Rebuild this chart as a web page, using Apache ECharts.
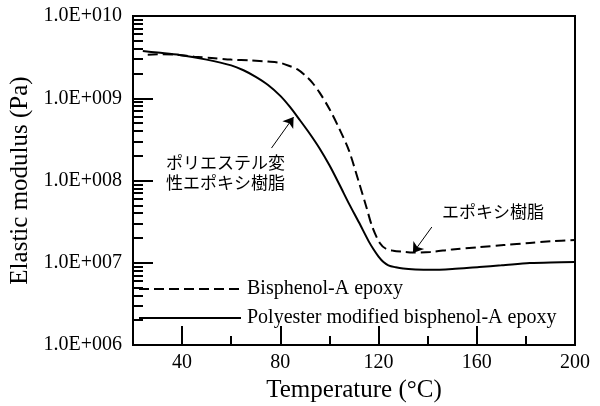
<!DOCTYPE html>
<html>
<head>
<meta charset="utf-8">
<style>
  html, body { margin: 0; padding: 0; background: #fff; }
  #chart { width: 600px; height: 406px; }
</style>
<script src="https://cdn.jsdelivr.net/npm/echarts@6/dist/echarts.min.js"></script>
</head>
<body>
<div id="chart"></div>
<script>
// Bisphenol-A epoxy (dashed)
const tempEpoxy = [26, 32, 38, 45, 52, 60, 68, 75, 80, 84, 87, 90, 93, 96, 100, 104, 108, 112, 115, 117.5, 120.5, 123, 126, 130, 134, 141, 150, 161, 171, 181.6, 190, 200]
const modulusEpoxy = [3.39e9, 3.43e9, 3.39e9, 3.2e9, 3.09e9, 2.95e9, 2.88e9, 2.79e9, 2.69e9, 2.45e9, 2.24e9, 1.91e9, 1.55e9, 1.17e9, 7.4e8, 4.27e8, 2.29e8, 9.5e7, 4.8e7, 2.7e7, 1.74e7, 1.48e7, 1.4e7, 1.36e7, 1.33e7, 1.35e7, 1.45e7, 1.55e7, 1.64e7, 1.74e7, 1.82e7, 1.89e7]

// Polyester modified bisphenol-A epoxy (solid)
const tempModified = [24, 30, 39, 50, 60, 65, 70, 75, 80, 84, 88, 92, 96, 100, 104, 108, 112, 116, 118, 120, 122, 124, 127, 130, 135, 141, 150, 161, 170, 181.6, 190, 200]
const modulusModified = [3.75e9, 3.59e9, 3.36e9, 2.95e9, 2.51e9, 2.19e9, 1.82e9, 1.45e9, 1.07e9, 7.8e8, 5.4e8, 3.7e8, 2.45e8, 1.53e8, 9.0e7, 5.2e7, 3.1e7, 1.82e7, 1.45e7, 1.19e7, 1.02e7, 9.3e6, 8.8e6, 8.5e6, 8.3e6, 8.2e6, 8.4e6, 8.9e6, 9.3e6, 9.9e6, 1.01e7, 1.02e7]

const xMajorTicks = [40, 80, 120, 160, 200]
const xMinorTicks = [60, 100, 140, 180]
const yDecades = [6, 7, 8, 9]
const yMinorSteps = [2, 3, 4, 5, 6, 7, 8, 9]

// minor ticks of the log axis, placed on a helper axis in decade units
const yMinorTicks = []
yDecades.forEach((d) => {
  yMinorSteps.forEach((k) => yMinorTicks.push(d + Math.log10(k)))
})

const serif = 'Liberation Serif'
const cjk = 'Noto Sans CJK JP'

const pairs = (xs, ys) => xs.map((x, i) => [x, ys[i]])

const chart = echarts.init(document.getElementById('chart'))

const option = {
  animation: false,
  grid: {
    left: 133,
    right: 25,
    top: 16,
    bottom: 61,
    outerBoundsMode: 'none',
    show: true,
    borderColor: '#000',
    borderWidth: 2
  },
  legend: {
    orient: 'vertical',
    left: 133,
    top: 274,
    itemWidth: 102,
    itemHeight: 20,
    itemGap: 9,
    itemStyle: { color: 'transparent', borderWidth: 0, opacity: 0 },
    textStyle: {
      fontFamily: serif,
      fontSize: 20,
      color: '#000',
      padding: [0, 0, 0, 1]
    },
    data: ['Bisphenol-A epoxy', 'Polyester modified bisphenol-A epoxy']
  },
  xAxis: [
    {
      type: 'value',
      min: 20,
      max: 200,
      interval: 20,
      name: 'Temperature (°C)',
      nameLocation: 'middle',
      nameGap: 32,
      nameTextStyle: { fontFamily: serif, fontSize: 25, color: '#000' },
      axisLine: { lineStyle: { color: '#000', width: 2 } },
      axisTick: {
        show: true,
        inside: true,
        length: 19,
        customValues: xMajorTicks,
        lineStyle: { color: '#000', width: 2 }
      },
      axisLabel: {
        customValues: xMajorTicks,
        fontFamily: serif,
        fontSize: 20,
        color: '#000',
        margin: 8
      },
      splitLine: { show: false }
    },
    {
      type: 'value',
      min: 20,
      max: 200,
      interval: 20,
      position: 'bottom',
      axisLine: { show: false },
      axisTick: {
        show: true,
        inside: true,
        length: 9,
        customValues: xMinorTicks,
        lineStyle: { color: '#000', width: 2 }
      },
      axisLabel: { show: false },
      splitLine: { show: false }
    }
  ],
  yAxis: [
    {
      type: 'log',
      logBase: 10,
      min: 1e6,
      max: 1e10,
      name: 'Elastic modulus (Pa)',
      nameLocation: 'middle',
      nameGap: 86,
      nameTextStyle: { fontFamily: serif, fontSize: 25, color: '#000' },
      axisLine: { lineStyle: { color: '#000', width: 2 } },
      axisTick: {
        show: true,
        inside: true,
        length: 20,
        lineStyle: { color: '#000', width: 2 }
      },
      axisLabel: {
        fontFamily: serif,
        fontSize: 20,
        color: '#000',
        margin: 11,
        formatter: (v) => {
          const e = Math.round(Math.log10(v))
          return '1.0E+' + String(e).padStart(3, '0')
        }
      },
      splitLine: { show: false }
    },
    {
      type: 'value',
      min: 6,
      max: 10,
      position: 'left',
      axisLine: { show: false },
      axisTick: {
        show: true,
        inside: true,
        length: 10,
        customValues: yMinorTicks,
        lineStyle: { color: '#000', width: 2 }
      },
      axisLabel: { show: false },
      splitLine: { show: false }
    }
  ],
  series: [
    {
      name: 'Bisphenol-A epoxy',
      type: 'line',
      data: pairs(tempEpoxy, modulusEpoxy),
      symbol: 'none',
      smooth: 0.3,
      color: '#000',
      lineStyle: { color: '#000', width: 2, type: [10, 5] },
      markLine: {
        silent: true,
        symbol: ['none', 'arrow'],
        symbolSize: 10,
        label: { show: false },
        lineStyle: { color: '#000', width: 1, type: 'solid' },
        data: [[{ coord: [141.7, 2.72e7] }, { coord: [134, 1.31e7] }]]
      }
    },
    {
      name: 'Polyester modified bisphenol-A epoxy',
      type: 'line',
      data: pairs(tempModified, modulusModified),
      symbol: 'none',
      smooth: 0.3,
      color: '#000',
      lineStyle: { color: '#000', width: 2 },
      markLine: {
        silent: true,
        symbol: ['none', 'arrow'],
        symbolSize: 10,
        label: { show: false },
        lineStyle: { color: '#000', width: 1, type: 'solid' },
        data: [[{ coord: [76.4, 2.48e8] }, { coord: [85.4, 5.9e8] }]]
      }
    }
  ],
  graphic: [
    {
      type: 'text',
      left: 166,
      top: 153,
      style: {
        text: 'ポリエステル変\n性エポキシ樹脂',
        font: '17px "' + cjk + '"',
        lineHeight: 20,
        fill: '#000'
      }
    },
    {
      type: 'text',
      left: 442,
      top: 203,
      style: {
        text: 'エポキシ樹脂',
        font: '17px "' + cjk + '"',
        fill: '#000'
      }
    }
  ]
}

chart.setOption(option)
</script>
</body>
</html>
